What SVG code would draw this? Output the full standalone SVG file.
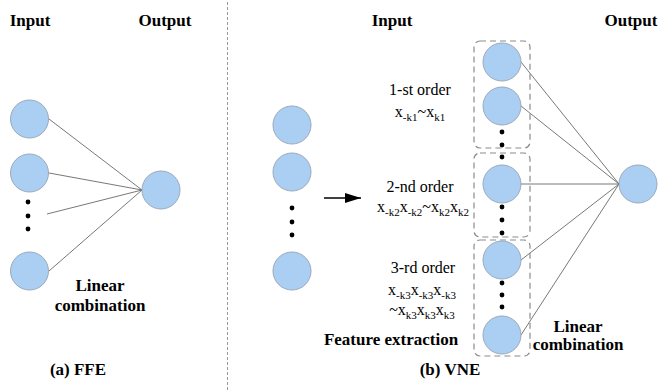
<svg xmlns="http://www.w3.org/2000/svg" width="659" height="390" viewBox="0 0 659 390">
  <style>
    .node { fill: #abcff3; stroke: #9aa9ba; stroke-width: 1; }
    .dot { fill: #000; }
    .edge { stroke: #555; stroke-width: 0.8; fill: none; }
    .group { fill: none; stroke: #8c8c8c; stroke-width: 1.2; stroke-dasharray: 6 4; }
    .divider { stroke: #9a9a9a; stroke-width: 1; stroke-dasharray: 3 2; }
    .bold { font-weight: bold; font-size: 17px; }
    .lbl { font-size: 16px; }
    .sub { font-size: 11px; }
  </style>
  <defs>
    <marker id="arrowHead" viewBox="0 0 16 10" refX="16" refY="5" markerWidth="16" markerHeight="10" markerUnits="userSpaceOnUse" orient="auto">
      <path d="M0,0 L16,5 L0,10 Z" fill="#000"/>
    </marker>
  </defs>

  <rect width="659" height="390" fill="#fff"/>

  <!-- panel divider -->
  <line class="divider" x1="227.5" y1="2" x2="227.5" y2="390"/>

  <!-- connectors -->
  <g id="connectors">
    <line class="edge" x1="49" y1="119" x2="142" y2="190"/>
    <line class="edge" x1="49" y1="173" x2="142" y2="190"/>
    <line class="edge" x1="47" y1="214" x2="142" y2="190"/>
    <line class="edge" x1="49" y1="271" x2="142" y2="190"/>

    <line class="edge" x1="521" y1="62" x2="619" y2="184"/>
    <line class="edge" x1="521" y1="106" x2="619" y2="184"/>
    <line class="edge" x1="521" y1="184" x2="619" y2="184"/>
    <line class="edge" x1="521" y1="260" x2="619" y2="184"/>
    <line class="edge" x1="521" y1="335" x2="619" y2="184"/>

    <line x1="324" y1="198" x2="361" y2="198" stroke="#000" stroke-width="1.5" marker-end="url(#arrowHead)"/>
  </g>

  <g font-family="Liberation Serif, Tinos, DejaVu Serif, serif" fill="#000" text-anchor="middle">
    <!-- (a) FFE -->
    <g id="ffe-inputs">
      <circle class="node" cx="29.5" cy="119" r="19"/>
      <circle class="node" cx="29.5" cy="173" r="19"/>
      <circle class="dot" cx="28" cy="202" r="2.4"/>
      <circle class="dot" cx="28" cy="216" r="2.4"/>
      <circle class="dot" cx="28" cy="229" r="2.4"/>
      <circle class="node" cx="29.5" cy="271" r="19"/>
    </g>
    <g id="ffe-output">
      <circle class="node" cx="161" cy="190" r="19"/>
    </g>
    <g id="ffe-labels">
      <text class="bold" x="30" y="26">Input</text>
      <text class="bold" x="165" y="26">Output</text>
      <text class="bold" x="100" y="291">Linear</text>
      <text class="bold" x="100" y="311">combination</text>
      <text class="bold" x="78" y="375">(a) FFE</text>
    </g>

    <!-- (b) VNE -->
    <g id="vne-inputs">
      <circle class="node" cx="292" cy="125" r="19"/>
      <circle class="node" cx="292" cy="172" r="19"/>
      <circle class="dot" cx="292" cy="208" r="2.4"/>
      <circle class="dot" cx="292" cy="222" r="2.4"/>
      <circle class="dot" cx="292" cy="235" r="2.4"/>
      <circle class="node" cx="292" cy="271" r="19"/>
    </g>

    <g id="order1">
      <rect class="group" x="474" y="41" width="56" height="107" rx="6"/>
      <circle class="node" cx="502" cy="62" r="19"/>
      <circle class="node" cx="502" cy="106" r="19"/>
      <circle class="dot" cx="502" cy="132" r="2.4"/>
      <circle class="dot" cx="502" cy="145" r="2.4"/>
      <text class="lbl" x="420" y="95">1-st order</text>
      <text class="lbl" x="420" y="117">x<tspan class="sub" dy="4">-k1</tspan><tspan dy="-4">~x</tspan><tspan class="sub" dy="4">k1</tspan></text>
    </g>

    <g id="order2">
      <rect class="group" x="474" y="153" width="56" height="84" rx="6"/>
      <circle class="dot" cx="502" cy="157" r="2.4"/>
      <circle class="node" cx="502" cy="184" r="19"/>
      <circle class="dot" cx="502" cy="207" r="2.4"/>
      <circle class="dot" cx="502" cy="220" r="2.4"/>
      <circle class="dot" cx="502" cy="233" r="2.4"/>
      <text class="lbl" x="420" y="192">2-nd order</text>
      <text class="lbl" x="423" y="212">x<tspan class="sub" dy="4">-k2</tspan><tspan dy="-4">x</tspan><tspan class="sub" dy="4">-k2</tspan><tspan dy="-4">~x</tspan><tspan class="sub" dy="4">k2</tspan><tspan dy="-4">x</tspan><tspan class="sub" dy="4">k2</tspan></text>
    </g>

    <g id="order3">
      <rect class="group" x="474" y="240" width="56" height="116" rx="6"/>
      <circle class="node" cx="502" cy="260" r="19"/>
      <circle class="dot" cx="502" cy="283" r="2.4"/>
      <circle class="dot" cx="502" cy="295" r="2.4"/>
      <circle class="dot" cx="502" cy="307" r="2.4"/>
      <circle class="node" cx="502" cy="335" r="19"/>
      <text class="lbl" x="423" y="273">3-rd order</text>
      <text class="lbl" x="422" y="295">x<tspan class="sub" dy="4">-k3</tspan><tspan dy="-4">x</tspan><tspan class="sub" dy="4">-k3</tspan><tspan dy="-4">x</tspan><tspan class="sub" dy="4">-k3</tspan></text>
      <text class="lbl" x="422" y="315">~x<tspan class="sub" dy="4">k3</tspan><tspan dy="-4">x</tspan><tspan class="sub" dy="4">k3</tspan><tspan dy="-4">x</tspan><tspan class="sub" dy="4">k3</tspan></text>
    </g>

    <g id="vne-output">
      <circle class="node" cx="638" cy="184" r="19"/>
    </g>

    <g id="vne-labels">
      <text class="bold" x="392" y="26">Input</text>
      <text class="bold" x="631" y="26">Output</text>
      <text class="bold" x="391" y="345" font-size="16">Feature extraction</text>
      <text class="bold" x="578" y="332">Linear</text>
      <text class="bold" x="578" y="350">combination</text>
      <text class="bold" x="450" y="375">(b) VNE</text>
    </g>
  </g>
</svg>
